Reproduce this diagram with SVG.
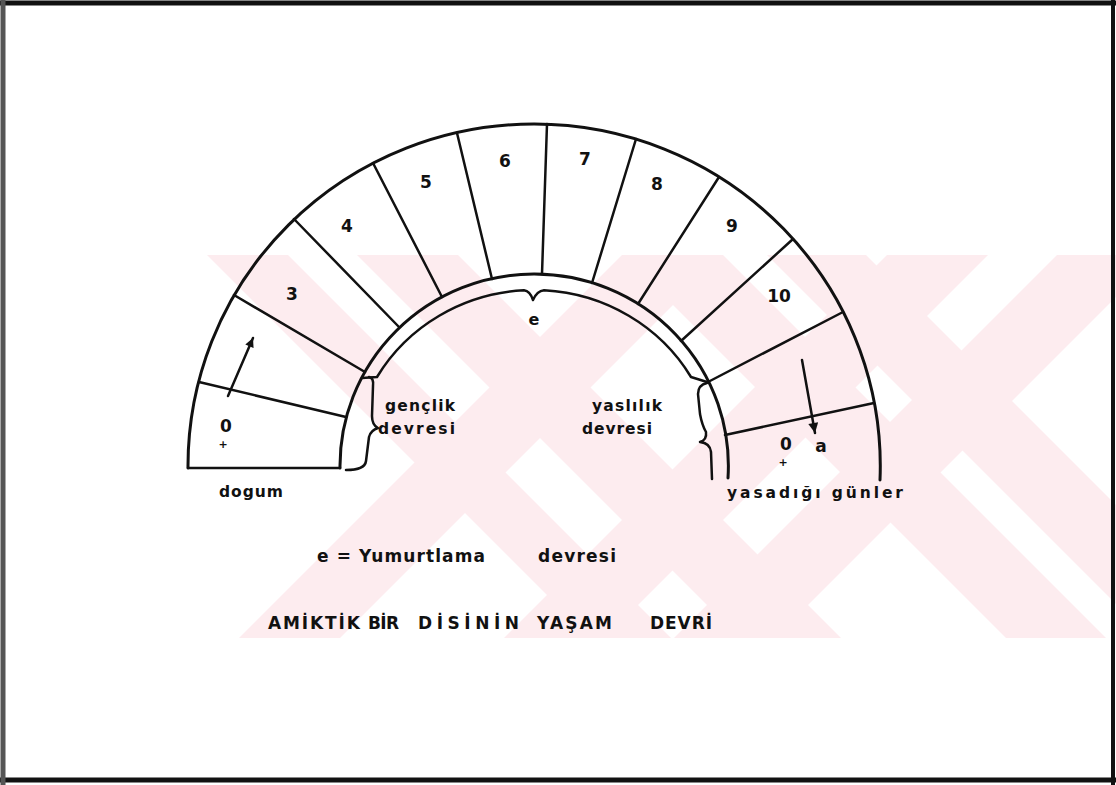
<svg xmlns="http://www.w3.org/2000/svg" width="1116" height="785" viewBox="0 0 1116 785">
<defs>
<style>
.ln{fill:none;stroke:#111;stroke-width:2.5;stroke-linecap:round;stroke-linejoin:round}
.arc{fill:none;stroke:#111;stroke-width:3;stroke-linecap:round;stroke-linejoin:round}
.t{font-family:"DejaVu Sans","Liberation Sans",sans-serif;font-weight:bold;fill:#111}
.num{font-size:17px;text-anchor:middle}
.lab{font-size:15.5px}
.big{font-size:17px}
.wm{fill:#fdecef}
</style>
<clipPath id="wmclip"><rect x="205" y="255" width="911" height="383"/></clipPath>
<marker id="ahS" viewBox="0 0 10 10" refX="10" refY="5" markerWidth="10" markerHeight="9" markerUnits="userSpaceOnUse" orient="auto"><path d="M0,0 L10,5 L0,10 z" fill="#111"/></marker>
<marker id="ahL" viewBox="0 0 10 10" refX="10" refY="5" markerWidth="12" markerHeight="10" markerUnits="userSpaceOnUse" orient="auto"><path d="M0,0 L10,5 L0,10 z" fill="#111"/></marker>
</defs>
<rect width="1116" height="785" fill="#fff"/>
<g id="watermark" clip-path="url(#wmclip)">
<polygon class="wm" points="207,255 288,255 671,638 590,638"/>
<polygon class="wm" points="357,255 458,255 841,638 740,638"/>
<polygon class="wm" points="623,255 723,255 1106,638 1006,638"/>
<polygon class="wm" points="767,255 866,255 1249,638 1150,638"/>
<polygon class="wm" points="622,255 723,255 340,638 239,638"/>
<polygon class="wm" points="887,255 988,255 605,638 504,638"/>
<polygon class="wm" points="1057,255 1158,255 775,638 674,638"/>
</g>
<g id="frame">
<line x1="0" y1="3" x2="1116" y2="3" stroke="#111" stroke-width="5"/>
<line x1="0" y1="780" x2="1116" y2="780" stroke="#111" stroke-width="5"/>
<line x1="1113" y1="0" x2="1113" y2="785" stroke="#111" stroke-width="4"/>
<line x1="3" y1="0" x2="3" y2="785" stroke="#555" stroke-width="5"/>
</g>
<g id="arch">
<path class="arc" d="M188,468 A346 342 0 0 1 534,124 A346 342 0 0 1 880,480"/>
<path class="arc" d="M340,468 A194 192 0 0 1 534,274 A194 192 0 0 1 728,478"/>
<path class="ln" d="M188,468 L340,468"/>
<path class="ln" d="M199,382 L346,417"/>
<path class="ln" d="M234,295 L365,372"/>
<path class="ln" d="M294,219 L399,327"/>
<path class="ln" d="M373,163 L442,297"/>
<path class="ln" d="M457,133 L492,279"/>
<path class="ln" d="M547,124 L542,274"/>
<path class="ln" d="M636,139 L592,283"/>
<path class="ln" d="M719,177 L638,304"/>
<path class="ln" d="M793,239 L681,341"/>
<path class="ln" d="M843,312 L708,382"/>
<path class="ln" d="M874,403 L725,435"/>
</g>
<g id="band-e">
<path class="ln" d="M362,378 L377,377 A182 176 0 0 1 524,290.3 Q530,291 533,300 Q537,291 544,290.3 A182 176 0 0 1 691,377 L707,382"/>
<text class="t" x="534" y="325" font-size="16" text-anchor="middle">e</text>
</g>
<g id="cell-0-start">
<text class="t num" x="226" y="432">0</text>
<text class="t" x="223" y="448" font-size="11" text-anchor="middle">+</text>
</g>
<g id="cell-3"><text class="t num" x="292" y="300">3</text></g>
<g id="cell-4"><text class="t num" x="347" y="232">4</text></g>
<g id="cell-5"><text class="t num" x="426" y="188">5</text></g>
<g id="cell-6"><text class="t num" x="505" y="167">6</text></g>
<g id="cell-7"><text class="t num" x="585" y="165">7</text></g>
<g id="cell-8"><text class="t num" x="657" y="190">8</text></g>
<g id="cell-9"><text class="t num" x="732" y="232">9</text></g>
<g id="cell-10"><text class="t num" x="779" y="302">10</text></g>
<g id="cell-0-end">
<text class="t num" x="786" y="450">0</text>
<text class="t" x="783" y="466" font-size="11" text-anchor="middle">+</text>
<text class="t num" x="821" y="452">a</text>
</g>
<g id="label-genclik">
<text class="t lab" x="385" y="411" textLength="70">gençlik</text>
<text class="t lab" x="378" y="434" textLength="77">devresi</text>
</g>
<g id="label-yaslilik">
<text class="t lab" x="592" y="411" textLength="70">yaslılık</text>
<text class="t lab" x="582" y="434" textLength="70">devresi</text>
</g>
<g id="label-dogum"><text class="t lab" x="219" y="497" textLength="64">dogum</text></g>
<g id="label-gunler"><text class="t lab" x="727" y="498" textLength="176">yasadığı günler</text></g>
<g id="legend">
<text class="t big" x="317" y="562" textLength="168">e = Yumurtlama</text>
<text class="t big" x="538" y="562" textLength="78">devresi</text>
</g>
<g id="title">
<text class="t big" x="268" y="629" textLength="92">AMİKTİK</text>
<text class="t big" x="368" y="629" textLength="31">BİR</text>
<text class="t big" x="418" y="629" textLength="101">DİSİNİN</text>
<text class="t big" x="537" y="629" textLength="75">YAŞAM</text>
<text class="t big" x="650" y="629" textLength="62">DEVRİ</text>
</g>
<g id="connectors">
<line class="ln" x1="228" y1="396" x2="253" y2="338" stroke-width="2" marker-end="url(#ahS)"/>
<line class="ln" x1="802" y1="360" x2="815" y2="433" stroke-width="2" marker-end="url(#ahL)"/>
<path class="ln" d="M369,377 Q374,378 373,386 L372,416 Q372,425 378,428 Q371,430 369,437 L366,461 Q365,470 346,470"/>
<path class="ln" d="M707,383 Q698,385 698,394 L700,414 Q702,425 706,432 Q707,440 700,442 Q710,443 711,452 L712,479"/>
</g>
</svg>
